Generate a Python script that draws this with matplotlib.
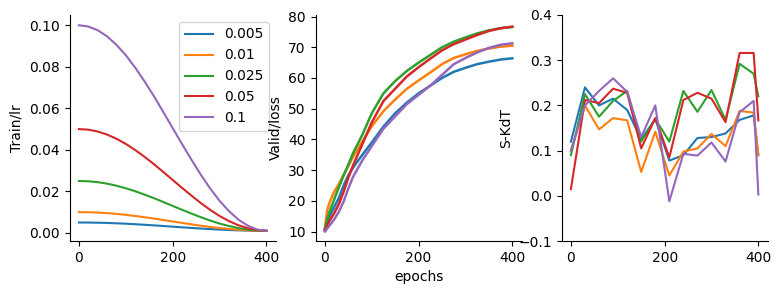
import matplotlib
matplotlib.use("Agg")
import numpy as np
import matplotlib.pyplot as plt

# learning rates (legend labels) and matplotlib default colours
LRS = [0.005, 0.01, 0.025, 0.05, 0.1]
LR_LABELS = ["0.005", "0.01", "0.025", "0.05", "0.1"]
COLORS = ["#1f77b4", "#ff7f0e", "#2ca02c", "#d62728", "#9467bd"]

# --- left panel: lr schedule (fraction of the start lr)
LR_EPOCHS = [0, 20, 40, 60, 80, 100, 120, 140, 160, 180, 200,
             220, 240, 260, 280, 300, 320, 340, 360, 380, 400]
LR_DECAY = [1.0, 0.994, 0.976, 0.946, 0.905, 0.854, 0.794, 0.727, 0.655, 0.578, 0.5,
            0.422, 0.346, 0.273, 0.206, 0.146, 0.096, 0.055, 0.025, 0.006, 0.0]
LR_END = 0.001

# --- middle panel: valid/loss
VAL_EPOCHS = [0, 5, 10, 20, 30, 40, 50, 60, 80, 100, 125, 150, 175, 200,
              225, 250, 275, 300, 325, 350, 375, 400]
val_0005 = [10.5, 13, 15, 18, 21, 25, 28.3, 30.8, 35, 39, 44.2, 48.5, 52, 55,
            57.5, 60, 62, 63.3, 64.5, 65.3, 66, 66.4]
val_001 = [11, 17, 19.5, 23, 25.5, 28.5, 31.3, 34.3, 39.3, 44.3, 49.2, 53, 56.5, 59.2,
           61.8, 64.5, 66.5, 67.7, 68.8, 69.6, 70.2, 70.5]
val_0025 = [11, 14, 16.5, 20.5, 24.5, 28.3, 31.8, 35.5, 41.5, 48.5, 55, 59, 62.3, 65,
            67.5, 70, 71.8, 73.2, 74.5, 75.5, 76.2, 76.6]
val_005 = [10.5, 12, 13.5, 16, 19, 23, 27.5, 31.5, 38.5, 45.5, 52.5, 56.5, 60.5, 63.5,
           66.3, 69, 71, 72.5, 74, 75.3, 76.2, 76.7]
val_01 = [10, 11, 12, 14, 16.5, 19.8, 24, 27.8, 33.2, 37.8, 43.5, 47.5, 51.5, 54.5,
          57.5, 61, 64.5, 66.5, 68.3, 69.8, 70.8, 71.3]

# --- right panel: S-KdT
KDT_EPOCHS = [0, 30, 60, 90, 120, 150, 180, 210, 240, 270, 300, 330, 360, 390, 400]
kdt_0005 = [0.12, 0.24, 0.2, 0.215, 0.19, 0.125, 0.17, 0.078, 0.09, 0.128, 0.13, 0.138, 0.168, 0.178, 0.09]
kdt_001 = [0.1, 0.2, 0.147, 0.172, 0.167, 0.053, 0.142, 0.045, 0.098, 0.105, 0.137, 0.11, 0.188, 0.184, 0.09]
kdt_0025 = [0.09, 0.225, 0.175, 0.21, 0.232, 0.12, 0.17, 0.12, 0.232, 0.186, 0.234, 0.168, 0.292, 0.27, 0.22]
kdt_005 = [0.015, 0.212, 0.205, 0.237, 0.228, 0.105, 0.172, 0.085, 0.212, 0.228, 0.215, 0.163, 0.316, 0.316, 0.167]
kdt_01 = [0.1, 0.2, 0.232, 0.26, 0.23, 0.13, 0.2, -0.012, 0.093, 0.089, 0.118, 0.076, 0.185, 0.21, 0.003]

VAL = [val_0005, val_001, val_0025, val_005, val_01]
KDT = [kdt_0005, kdt_001, kdt_0025, kdt_005, kdt_01]

fig = plt.figure(figsize=(7.81, 2.94), dpi=100)
w, h, b = 0.264, 0.769, 0.180
ax1 = fig.add_axes([0.0891, b, w, h])
ax2 = fig.add_axes([0.404, b, w, h])
ax3 = fig.add_axes([0.719, b, w, h])

decay = np.array(LR_DECAY)
for lr, lab, c in zip(LRS, LR_LABELS, COLORS):
    ax1.plot(LR_EPOCHS, LR_END + (lr - LR_END) * decay, color=c, lw=1.5, label=lab)
ax1.set_ylabel("Train/lr")
ax1.set_yticks([0.0, 0.02, 0.04, 0.06, 0.08, 0.10])
ax1.legend(loc="upper right")

for vals, c in zip(VAL, COLORS):
    ax2.plot(VAL_EPOCHS, vals, color=c, lw=1.8)
ax2.set_ylabel("Valid/loss")
ax2.set_xlabel("epochs")
ax2.set_ylim(6.9, 80.5)
ax2.set_yticks(range(10, 81, 10))

for vals, c in zip(KDT, COLORS):
    ax3.plot(KDT_EPOCHS, vals, color=c, lw=1.5)
ax3.set_ylabel("S-KdT")
ax3.set_ylim(-0.1, 0.4)
ax3.set_yticks([-0.1, 0.0, 0.1, 0.2, 0.3, 0.4])

for ax in (ax1, ax2, ax3):
    ax.set_xticks([0, 200, 400])
    ax.spines["top"].set_visible(False)
    ax.spines["right"].set_visible(False)

fig.savefig("out.png", dpi=100)
